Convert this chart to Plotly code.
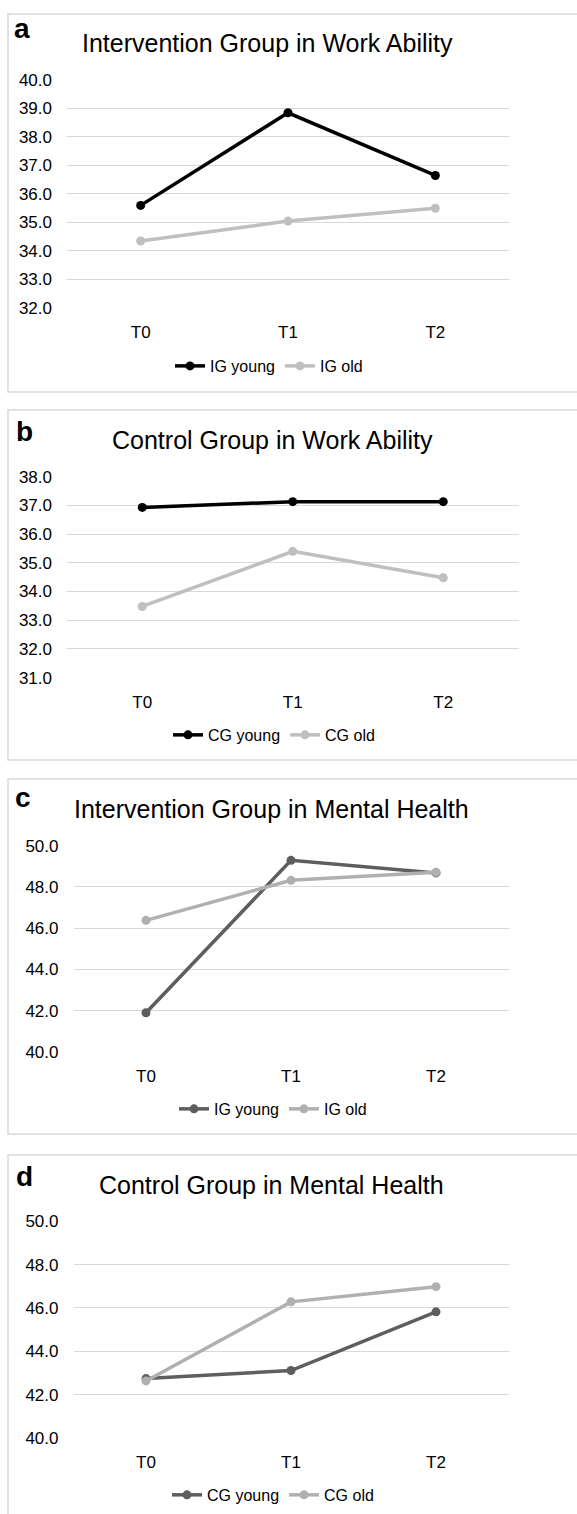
import plotly.graph_objects as go

W, H = 577, 1514
FONT = "Liberation Sans, Arial, sans-serif"

times = ["T0", "T1", "T2"]

# Panel a: Intervention Group in Work Ability
a_young = [35.6, 38.85, 36.65]
a_old = [34.35, 35.05, 35.5]
# Panel b: Control Group in Work Ability
b_young = [36.93, 37.13, 37.13]
b_old = [33.48, 35.4, 34.48]
# Panel c: Intervention Group in Mental Health
c_young = [41.9, 49.29, 48.68]
c_old = [46.38, 48.32, 48.71]
# Panel d: Control Group in Mental Health
d_young = [42.74, 43.11, 45.82]
d_old = [42.63, 46.28, 46.98]

titles = ["Intervention Group in Work Ability", "Control Group in Work Ability",
          "Intervention Group in Mental Health", "Control Group in Mental Health"]
letters = ["a", "b", "c", "d"]
names = [("IG young", "IG old"), ("CG young", "CG old"),
         ("IG young", "IG old"), ("CG young", "CG old")]
yranges = [(32, 40), (31, 38), (40, 50), (40, 50)]
dticks = [1, 1, 2, 2]
series = [(a_young, a_old), (b_young, b_old), (c_young, c_old), (d_young, d_old)]
colors = [("#000000", "#BFBFBF"), ("#000000", "#BFBFBF"),
          ("#5E5E5E", "#B0B0B0"), ("#5E5E5E", "#B0B0B0")]

# layout geometry in pixels (as seen in the target picture)
plot_x = [(67, 509), (67, 518.5), (73.5, 508.5), (73.5, 508.5)]
plot_y = [(79, 307), (475.7, 676.7), (844.7, 1051), (1220.3, 1437)]
boxes = [(13, 391), (409, 759), (778, 1133), (1154, 1530)]
title_pos = [(267, 42), (272, 439), (271, 808), (271, 1184)]
letter_pos = [(22, 28), (24, 431), (23, 797), (24, 1176)]
legend_pos = [(269, 365), (274, 734), (273, 1108), (273, 1494)]

# the page capture adds a small top offset and a slight vertical squeeze
Y_OFF, Y_SCALE = 8.0, 0.9875


def px(x):
    return x / W


def py(y):
    return 1 - ((y - Y_OFF) / Y_SCALE) / H


fig = go.Figure()
layout = dict(width=W, height=H, margin=dict(l=0, r=0, t=0, b=0),
              paper_bgcolor="white", plot_bgcolor="white",
              font=dict(family=FONT, color="#000000"))
shapes, annotations = [], []

for i in range(4):
    n = "" if i == 0 else str(i + 1)
    leg = "legend" + n
    for k in range(2):
        fig.add_trace(go.Scatter(
            x=times, y=series[i][k], mode="lines+markers", name=names[i][k],
            line=dict(color=colors[i][k], width=3.5),
            marker=dict(color=colors[i][k], size=9),
            xaxis="x" + n, yaxis="y" + n, legend=leg, showlegend=True))
    layout["xaxis" + n] = dict(
        domain=[px(plot_x[i][0]), px(plot_x[i][1])], anchor="y" + n,
        range=[-0.5, 2.5], showgrid=False, zeroline=False, showline=False,
        tickfont=dict(size=17, family=FONT, color="#000000"),
        ticklabelstandoff=12, fixedrange=True)
    layout["yaxis" + n] = dict(
        domain=[max(0, py(plot_y[i][1])), min(1, py(plot_y[i][0]))], anchor="x" + n,
        range=list(yranges[i]), dtick=dticks[i], tick0=0, tickformat=".1f",
        showgrid=True, gridcolor="#D9D9D9", gridwidth=1, zeroline=False,
        showline=False, tickfont=dict(size=17, family=FONT, color="#000000"),
        ticklabelstandoff=14, fixedrange=True)
    layout[leg] = dict(
        orientation="h", x=px(legend_pos[i][0]), y=py(legend_pos[i][1]),
        xanchor="center", yanchor="middle", bgcolor="rgba(0,0,0,0)",
        font=dict(size=16, family=FONT, color="#000000"), itemwidth=30,
        tracegroupgap=0)
    shapes.append(dict(type="rect", xref="paper", yref="paper",
                       x0=px(8), x1=px(590), y0=py(boxes[i][1]), y1=py(boxes[i][0]),
                       line=dict(color="#D9D9D9", width=1.5), layer="below"))
    annotations.append(dict(text=titles[i], xref="paper", yref="paper",
                            x=px(title_pos[i][0]), y=py(title_pos[i][1]),
                            xanchor="center", yanchor="middle", showarrow=False,
                            font=dict(size=25, family=FONT, color="#000000")))
    annotations.append(dict(text="<b>" + letters[i] + "</b>", xref="paper", yref="paper",
                            x=px(letter_pos[i][0]), y=py(letter_pos[i][1]),
                            xanchor="center", yanchor="middle", showarrow=False,
                            font=dict(size=28, family=FONT, color="#000000")))

layout["shapes"] = shapes
layout["annotations"] = annotations
fig.update_layout(**layout)
fig.write_html("out.html", config={"displayModeBar": False},
               post_script="document.body.style.margin='0';document.body.style.overflow='hidden';")
